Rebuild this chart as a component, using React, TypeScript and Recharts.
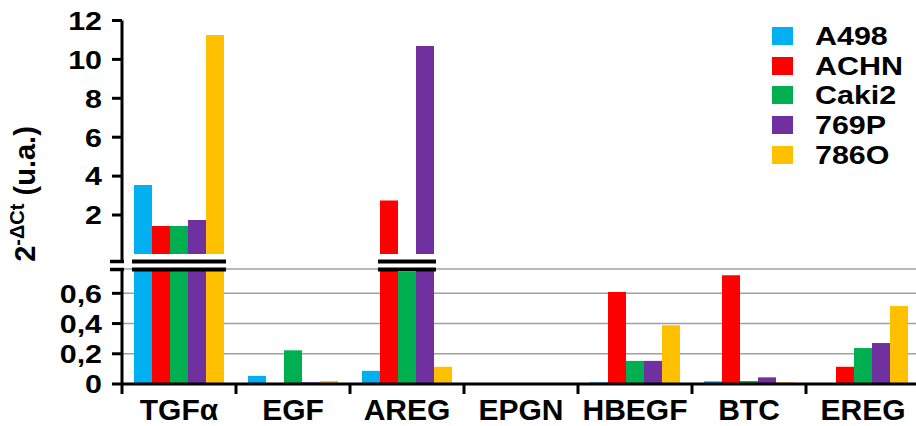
import React from 'react';
import {
  BarChart,
  Bar,
  XAxis,
  YAxis,
  CartesianGrid,
  Legend,
} from 'recharts';

const CATEGORIES = ['TGFα', 'EGF', 'AREG', 'EPGN', 'HBEGF', 'BTC', 'EREG'];
const A498 = [3.54, 0.054, 0.087, 0, 0.011, 0.018, 0];
const ACHN = [1.43, 0, 2.74, 0, 0.608, 0.719, 0.114];
const CAKI2 = [1.43, 0.223, 0.741, 0, 0.153, 0.02, 0.238];
const P769 = [1.74, 0.011, 10.69, 0, 0.153, 0.044, 0.271];
const O786 = [11.25, 0.02, 0.114, 0, 0.389, 0.011, 0.516];

const UPPER_TICKS = [2, 4, 6, 8, 10, 12];
const LOWER_TICKS = [0, 0.2, 0.4, 0.6];

const SERIES = [
  { key: 'A498', values: A498, color: '#00B0F0' },
  { key: 'ACHN', values: ACHN, color: '#FF0000' },
  { key: 'Caki2', values: CAKI2, color: '#00B050' },
  { key: '769P', values: P769, color: '#7030A0' },
  { key: '786O', values: O786, color: '#FFC000' },
];

// broken axis: lower panel 0..LOWER_MAX, upper panel starts below 0 so bars reach the break
const LOWER_MAX = 0.761;
const UPPER_MIN = -0.416;

const FONT = 'Arial, "Liberation Sans", sans-serif';
const CHART_W = 920;
const AXIS_X = 122;
const CAT_W = (CHART_W - AXIS_X) / CATEGORIES.length;
const CAT_GAP = 12;
const BAR_W = (CAT_W - 2 * CAT_GAP) / SERIES.length;
const BREAK_TOP = 261.5;
const BREAK_BOTTOM = 269.5;

const upperData = CATEGORIES.map((cat, i) => {
  const row: Record<string, any> = { cat };
  SERIES.forEach((s) => {
    row[s.key] = s.values[i] > LOWER_MAX ? s.values[i] : null;
  });
  return row;
});

const lowerData = CATEGORIES.map((cat, i) => {
  const row: Record<string, any> = { cat };
  SERIES.forEach((s) => {
    row[s.key] = Math.min(s.values[i], LOWER_MAX);
  });
  return row;
});

// which categories get the break marks drawn over their bars
const breaks = CATEGORIES.map((_, i) => {
  const idx = SERIES.map((s, j) => (s.values[i] > LOWER_MAX ? j : -1)).filter((j) => j >= 0);
  if (!idx.length) return null;
  const start = AXIS_X + i * CAT_W + CAT_GAP;
  return {
    x1: start + Math.min(...idx) * BAR_W - 2,
    x2: start + (Math.max(...idx) + 1) * BAR_W + 2,
  };
}).filter(Boolean) as Array<{ x1: number; x2: number }>;

const fmtLower = (v: number) => (v === 0 ? '0' : v.toFixed(1).replace('.', ','));

const YTick = ({ x, y, payload, fmt }: any) => (
  <text
    transform={`translate(${x},${y}) scale(1.17,1)`}
    textAnchor="end"
    dy="0.36em"
    fontSize={26}
    fontWeight="bold"
    fontFamily={FONT}
    fill="#000"
  >
    {fmt ? fmt(payload.value) : payload.value}
  </text>
);

const XTick = ({ x, y, payload }: any) => (
  <g>
    <line x1={x - CAT_W / 2} x2={x - CAT_W / 2} y1={y} y2={y + 10} stroke="#000" strokeWidth={3} />
    <text x={x} y={y + 36} textAnchor="middle" fontSize={30} fontWeight="bold" fontFamily={FONT} fill="#000">
      {payload.value}
    </text>
  </g>
);

const renderLegend = () => (
  <div style={{ fontFamily: FONT }}>
    {SERIES.map((s) => (
      <div key={s.key} style={{ display: 'flex', alignItems: 'center', height: 29.8 }}>
        <span style={{ width: 21, height: 18, background: s.color, marginRight: 22 }} />
        <span
          style={{
            fontSize: 26,
            fontWeight: 'bold',
            transform: 'scaleX(1.17)',
            transformOrigin: 'left center',
            lineHeight: 1,
          }}
        >
          {s.key}
        </span>
      </div>
    ))}
  </div>
);

export default function App() {
  return (
    <div
      style={{
        position: 'absolute',
        left: 0,
        top: 0,
        width: 916,
        height: 426,
        overflow: 'hidden',
        background: '#fff',
        fontFamily: FONT,
      }}
    >
      <div style={{ position: 'absolute', left: 0, top: 0 }}>
        <BarChart
          width={CHART_W}
          height={262}
          data={upperData}
          margin={{ top: 20.5, right: 0, left: 0, bottom: 0 }}
          barCategoryGap={CAT_GAP}
          barGap={0}
          baseValue={UPPER_MIN}
        >
          <XAxis dataKey="cat" hide />
          <YAxis
            type="number"
            domain={[UPPER_MIN, 12]}
            ticks={UPPER_TICKS}
            allowDataOverflow
            width={AXIS_X}
            tickSize={10}
            tickMargin={10}
            axisLine={{ stroke: '#000', strokeWidth: 3 }}
            tickLine={{ stroke: '#000', strokeWidth: 3 }}
            tick={<YTick />}
          />
          <Legend
            layout="horizontal"
            align="center"
            verticalAlign="middle"
            content={renderLegend}
            wrapperStyle={{ position: 'absolute', left: 772, top: 21, width: 150, height: 150 }}
          />
          {SERIES.map((s) => (
            <Bar key={s.key} dataKey={s.key} name={s.key} fill={s.color} isAnimationActive={false} />
          ))}
        </BarChart>
      </div>

      <div style={{ position: 'absolute', left: 0, top: 262 }}>
        <BarChart
          width={CHART_W}
          height={164}
          data={lowerData}
          margin={{ top: 7, right: 0, left: 0, bottom: 0 }}
          barCategoryGap={CAT_GAP}
          barGap={0}
        >
          <CartesianGrid vertical={false} stroke="#a0a0a0" strokeWidth={1.5} />
          <XAxis
            dataKey="cat"
            height={42}
            tickSize={0}
            tickMargin={0}
            tickLine={false}
            interval={0}
            axisLine={{ stroke: '#000', strokeWidth: 3 }}
            tick={<XTick />}
          />
          <YAxis
            type="number"
            domain={[0, LOWER_MAX]}
            ticks={LOWER_TICKS}
            allowDataOverflow
            width={AXIS_X}
            tickSize={10}
            tickMargin={10}
            axisLine={{ stroke: '#000', strokeWidth: 3 }}
            tickLine={{ stroke: '#000', strokeWidth: 3 }}
            tick={<YTick fmt={fmtLower} />}
          />
          {SERIES.map((s) => (
            <Bar key={s.key} dataKey={s.key} name={s.key} fill={s.color} isAnimationActive={false} />
          ))}
        </BarChart>
      </div>

      {/* axis title and break marks */}
      <svg
        width={916}
        height={426}
        style={{ position: 'absolute', left: 0, top: 0, pointerEvents: 'none' }}
      >
        <text
          transform="translate(35,194) rotate(-90)"
          textAnchor="middle"
          fontSize={29}
          fontWeight="bold"
          fontFamily={FONT}
          fill="#000"
        >
          2
          <tspan fontSize={20} dy={-11}>
            -ΔCt
          </tspan>
          <tspan dy={11}> (u.a.)</tspan>
        </text>
        {[BREAK_TOP, BREAK_BOTTOM].map((y) => (
          <g key={y}>
            <line x1={110} x2={124} y1={y} y2={y} stroke="#000" strokeWidth={3.5} />
            {breaks.map((b, i) => (
              <line key={i} x1={b.x1} x2={b.x2} y1={y} y2={y} stroke="#000" strokeWidth={4} />
            ))}
          </g>
        ))}
      </svg>
    </div>
  );
}
